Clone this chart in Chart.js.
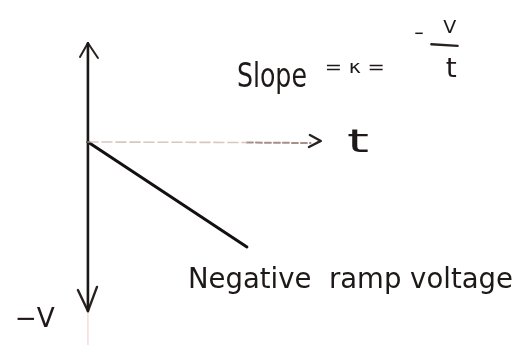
<!DOCTYPE html>
<html>
<head>
<meta charset="utf-8">
<script src="https://cdn.jsdelivr.net/npm/chart.js@4"></script>
<style>
  html, body { margin: 0; padding: 0; background: #ffffff; }
  #wrap { width: 522px; height: 345px; position: relative; }
  canvas { filter: blur(0.35px); }
</style>
</head>
<body>
<div id="wrap"><canvas id="chart"></canvas></div>
<script>
// ramp: starts at 0 and falls linearly (units of t and V)
var rampT = [0, 1];
var rampV = [0, -1];

// axis extents
var vAxisTop = 0.94;
var vAxisBottom = -1.61;
var tAxisEnd = 1.4;

// text drawn on the sketch: [text, x, y, height px, width px, align]
var labels = [
  ['Slope', 0.937, 0.524, 33, 70, 'left'],
  ['= \u03ba =', 1.49, 0.66, 17, 60, 'left'],
  ['\u2212', 2.05, 0.98, 18, 10, 'left'],
  ['V', 2.275, 1.04, 18, 13, 'center'],
  ['t', 2.285, 0.62, 26, 11, 'center'],
  ['t', 1.63, -0.095, 32, 22, 'left'],
  ['Negative  ramp voltage', 0.629, -1.39, 28, 325, 'left'],
  ['\u2212V', -0.46, -1.762, 26, 40, 'left']
];

function pts(xs, ys) {
  return xs.map(function (x, i) { return { x: x, y: ys[i] }; });
}

function seg(data, color, width, dash) {
  return {
    data: data,
    showLine: true,
    borderColor: color,
    borderWidth: width,
    borderDash: dash || [],
    pointRadius: 0,
    borderCapStyle: 'round',
    borderJoinStyle: 'round',
    tension: 0
  };
}

var datasets = [
  // time axis, faint pencil line getting darker near the arrow
  seg(pts([0, 1.0], [0, -0.005]), 'rgba(200,180,172,0.75)', 1.6, [10, 4]),
  seg(pts([1.0, tAxisEnd], [-0.005, -0.01]), 'rgba(150,125,115,0.85)', 2, [6, 3]),
  seg(pts([1.396, 1.465, 1.39], [0.067, 0.01, -0.048]), '#2a2222', 2.4),
  // voltage axis
  seg(pts([0, 0], [vAxisTop, vAxisBottom]), '#1c1818', 2.6),
  seg(pts([0, 0], [vAxisBottom, -1.95]), 'rgba(225,160,160,0.45)', 1.2),
  seg(pts([-0.05, 0, 0.063], [0.81, 0.943, 0.80]), '#2a2020', 2),
  seg(pts([-0.063, 0, 0.057], [-1.41, -1.61, -1.38]), '#2a2020', 2.4),
  // negative ramp
  seg(pts(rampT, rampV), '#141010', 3),
  // fraction bar of -V/t
  seg(pts([2.16, 2.325], [0.93, 0.915]), '#2a2020', 2.4)
];

var textPlugin = {
  id: 'sketchText',
  afterDatasetsDraw: function (chart) {
    var ctx = chart.ctx;
    var xs = chart.scales.x, ys = chart.scales.y;
    ctx.save();
    ctx.fillStyle = '#1e1818';
    ctx.textBaseline = 'alphabetic';
    labels.forEach(function (l) {
      var px = xs.getPixelForValue(l[1]);
      var py = ys.getPixelForValue(l[2]);
      ctx.font = l[3] + 'px "DejaVu Sans"';
      var w = ctx.measureText(l[0]).width;
      var k = l[4] / w;
      ctx.save();
      ctx.translate(px, py);
      ctx.scale(k, 1);
      ctx.textAlign = l[5];
      ctx.fillText(l[0], 0, 0);
      ctx.restore();
    });
    ctx.restore();
  }
};

var ctx = document.getElementById('chart').getContext('2d');
window.myChart = new Chart(ctx, {
  type: 'scatter',
  data: { datasets: datasets },
  options: {
    responsive: true,
    maintainAspectRatio: false,
    animation: false,
    layout: { padding: 0 },
    plugins: { legend: { display: false }, tooltip: { enabled: false } },
    scales: {
      x: { type: 'linear', min: -0.553, max: 2.73, display: false },
      y: { type: 'linear', min: -1.933, max: 1.352, display: false }
    }
  },
  plugins: [textPlugin]
});
</script>
</body>
</html>
